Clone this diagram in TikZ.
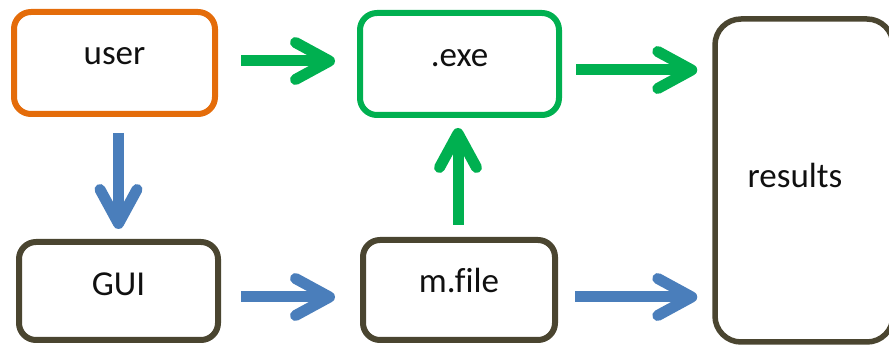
\documentclass[tikz,border=0pt]{standalone}
\usepackage{fontspec}
\setmainfont{Carlito}[Ligatures=NoCommon]
\usetikzlibrary{arrows.meta}
\definecolor{cOrange}{HTML}{E46C0A}
\definecolor{cGreen}{HTML}{00B050}
\definecolor{cBlue}{HTML}{4A7EBB}
\definecolor{cDark}{HTML}{4A4530}
\definecolor{cText}{HTML}{101010}
\tikzset{
  box/.style={draw=cDark, line width=6pt, rounded corners=17pt, fill=white,
    text=cText, font=\fontsize{35}{40}\selectfont, text depth=0pt, inner sep=2pt},
  garrow/.style={draw=cGreen, line width=11pt,
    -{Straight Barb[length=34pt, width=37pt, round]}},
  barrow/.style={draw=cBlue, line width=11pt,
    -{Straight Barb[length=34pt, width=37pt, round]}},
}
\begin{document}
\begin{tikzpicture}[x=1pt, y=-1pt]
\useasboundingbox (0,0) rectangle (889,347);
\node[box, draw=cOrange, minimum width=201pt, minimum height=102pt, text height=4pt] (user) at (114.5,63) {user};
\node[box, draw=cGreen, minimum width=199pt, minimum height=102pt, text height=6pt] (exe) at (459.5,64) {.exe};
\node[box, minimum width=199pt, minimum height=98pt, text height=10pt] (gui) at (118.5,291) {GUI};
\node[box, minimum width=192pt, minimum height=100pt, text height=6pt] (mfile) at (459,290) {m.file};
\node[box, rounded corners=26pt, line width=5.5pt, minimum width=178pt, minimum height=323pt, text height=15pt] (results) at (804,180.5) {results\kern18pt};

% green arrows
\draw[garrow] ([xshift=23pt,yshift=2pt]user.east) -- ([xshift=-22pt,yshift=2pt]user.east -| exe.west);
\draw[garrow] ([xshift=14pt,yshift=-6pt]exe.east) -- ([xshift=-15pt,yshift=-6pt]exe.east -| results.west);
\draw[garrow] ([yshift=12pt,xshift=-1pt]mfile.north) -- ([yshift=-10pt,xshift=-1pt]mfile.north |- exe.south);
% blue arrows
\draw[barrow] ([yshift=-16pt]user.south -| gui.north) -- ([yshift=10pt]gui.north);
\draw[barrow] ([xshift=20pt,yshift=-6pt]gui.east) -- ([xshift=-25pt,yshift=-6pt]gui.east -| mfile.west);
\draw[barrow] ([xshift=17pt,yshift=-7pt]mfile.east) -- ([xshift=-15pt,yshift=-7pt]mfile.east -| results.west);
\end{tikzpicture}
\end{document}
